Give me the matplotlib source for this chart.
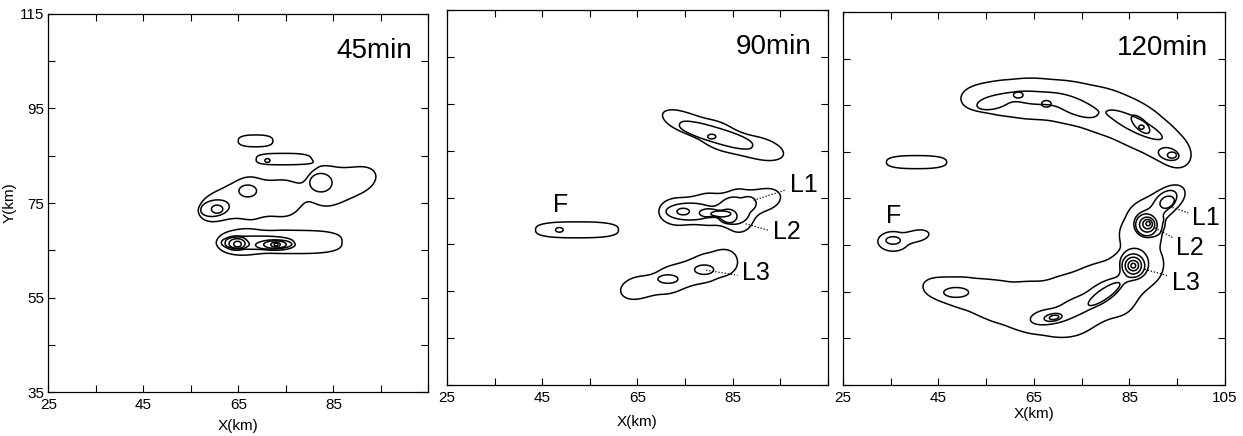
import numpy as np
import matplotlib.pyplot as plt

plt.rcParams['font.family'] = ['Liberation Sans', 'DejaVu Sans']

# echo cells:
# (x km, y km, half-length, half-width, tilt deg, contour level, squareness)
cells_45 = [
    (68.6, 88.15, 3.65, 1.25, 0, 1, 2.6),
    (74.4, 84.3, 5.6, 1.2, 0, 1, 3.0),
    (71.1, 84.0, 0.55, 0.4, 0, 2, 2),
    (61.0, 74.4, 4.6, 3.0, 25, 1, 2),
    (67.5, 76.0, 4.4, 4.5, 0, 1, 2),
    (74.5, 76.0, 3.8, 3.8, 0, 1, 2),
    (83.5, 78.6, 4.4, 4.2, 15, 1, 2),
    (89.5, 79.6, 4.6, 2.8, 20, 1, 2),
    (60.0, 73.9, 3.1, 1.7, 10, 2, 2),
    (60.5, 73.7, 1.2, 0.85, 0, 3, 2),
    (66.95, 77.55, 1.85, 1.25, 0, 2, 2),
    (82.35, 79.3, 2.35, 1.95, 0, 2, 2),
    (76.5, 66.75, 10.3, 2.45, 0, 1, 3),
    (65.0, 66.6, 4.3, 2.3, 0, 1, 2),
    (69.0, 66.6, 7.6, 1.4, 0, 2, 2.5),
    (64.5, 66.5, 2.4, 1.5, 0, 3, 2),
    (64.7, 66.4, 1.7, 1.05, 0, 4, 2),
    (64.8, 66.3, 0.8, 0.6, 0, 5, 2),
    (72.7, 66.1, 4.0, 1.1, 0, 3, 2),
    (72.7, 66.2, 2.4, 0.8, 0, 4, 2),
    (72.8, 66.2, 1.0, 0.5, 0, 5, 2),
    (72.9, 66.2, 0.4, 0.3, 0, 6, 2),
]

cells_90 = [
    (74.5, 91.2, 4.5, 2.0, -22, 1, 2),
    (82.0, 88.2, 5.5, 2.8, -25, 1, 2),
    (90.5, 85.5, 5.3, 2.3, -15, 1, 2),
    (81.5, 88.3, 8.0, 1.6, -17, 2, 2.5),
    (80.6, 88.0, 0.85, 0.5, 0, 3, 2),
    (52.3, 68.1, 8.7, 1.7, 0, 1, 2.8),
    (48.6, 68.1, 0.8, 0.5, 0, 2, 2),
    (73.5, 72.0, 4.0, 2.9, 0, 1, 2),
    (80.0, 72.5, 4.0, 3.4, 0, 1, 2),
    (86.3, 72.2, 3.5, 4.6, 0, 1, 2),
    (91.5, 74.5, 3.6, 2.3, 15, 1, 2),
    (76.0, 72.0, 5.0, 1.8, 0, 2, 2),
    (85.3, 72.2, 3.3, 2.9, 0, 2, 2),
    (88.5, 73.8, 1.3, 1.2, 0, 2, 2),
    (74.6, 72.0, 1.3, 0.7, 0, 3, 2),
    (80.0, 71.7, 2.0, 0.9, 0, 3, 2),
    (84.0, 71.0, 1.9, 1.5, 0, 3, 2),
    (82.5, 71.5, 2.1, 0.65, 0, 4, 2),
    (65.0, 55.7, 3.6, 2.3, 15, 1, 2),
    (72.0, 57.5, 4.5, 2.8, 22, 1, 2),
    (79.5, 60.0, 4.8, 3.0, 20, 1, 2),
    (83.5, 61.2, 2.2, 2.2, 0, 1, 2),
    (71.4, 57.6, 2.1, 0.9, 0, 2, 2),
    (79.0, 59.6, 2.0, 1.0, 0, 2, 2),
]

cells_120 = [
    # northern arc
    (53.5, 96.6, 3.8, 2.6, 5, 1, 2),
    (57.2, 96.6, 3.6, 2.9, 2, 1, 2),
    (61.0, 96.5, 4.5, 3.7, 0, 1, 2),
    (64.8, 96.4, 4.0, 3.5, -3, 1, 2),
    (68.5, 96.2, 4.5, 3.8, -5, 1, 2),
    (72.3, 95.6, 4.1, 3.7, -8, 1, 2),
    (76.0, 94.8, 4.5, 4.0, -12, 1, 2),
    (79.5, 93.8, 4.1, 3.9, -18, 1, 2),
    (83.0, 92.5, 4.5, 4.2, -25, 1, 2),
    (86.3, 90.8, 4.1, 3.8, -32, 1, 2),
    (89.5, 88.8, 4.5, 3.8, -38, 1, 2),
    (92.3, 86.8, 3.6, 3.0, -45, 1, 2),
    (94.8, 84.8, 3.3, 2.8, -50, 1, 2),
    (56.5, 95.6, 3.5, 1.4, 12, 2, 2),
    (65.0, 96.6, 5.2, 1.35, -5, 2, 2),
    (73.5, 94.8, 5.0, 1.7, -22, 2, 2),
    (86.2, 90.8, 6.3, 1.5, -27, 2, 2),
    (93.2, 84.5, 2.2, 1.25, -15, 2, 2),
    (61.7, 97.2, 1.0, 0.65, 0, 3, 2),
    (67.6, 95.3, 1.0, 0.7, 0, 3, 2),
    (87.3, 90.9, 2.5, 1.1, -45, 3, 2),
    (93.9, 84.3, 0.95, 0.65, 0, 3, 2),
    (87.5, 90.3, 0.55, 0.45, 0, 4, 2),
    # isolated cells
    (40.4, 82.8, 6.3, 1.4, 0, 1, 2.6),
    (35.5, 65.8, 3.2, 2.1, 0, 1, 2),
    (40.5, 67.0, 2.5, 1.2, 10, 1, 2),
    (35.5, 66.0, 1.5, 0.8, 0, 2, 2),
    # southern crescent
    (45.5, 55.6, 3.8, 2.3, -12, 1, 2),
    (49.0, 55.0, 3.3, 2.6, -12, 1, 2),
    (52.5, 54.3, 4.0, 3.3, -15, 1, 2),
    (56.3, 53.3, 3.6, 3.5, -12, 1, 2),
    (60.0, 52.3, 4.5, 4.2, -10, 1, 2),
    (63.8, 51.7, 3.8, 4.4, -5, 1, 2),
    (67.5, 51.3, 4.5, 5.1, 0, 1, 2),
    (71.0, 51.8, 3.8, 5.2, 0, 1, 2),
    (74.5, 52.4, 4.5, 5.9, 0, 1, 2),
    (81.0, 55.5, 5.5, 6.1, 35, 1, 2),
    (87.5, 61.2, 4.6, 5.0, 20, 1, 2),
    (87.4, 67.3, 3.9, 2.6, 0, 1, 2),
    (88.6, 71.5, 4.6, 3.3, 30, 1, 2),
    (93.3, 75.0, 3.7, 2.4, 35, 1, 2),
    (48.7, 54.85, 2.6, 1.05, 0, 2, 2),
    (67.8, 49.6, 3.6, 1.6, 10, 2, 2),
    (72.8, 51.4, 3.5, 1.7, 28, 2, 2),
    (79.0, 54.6, 5.2, 2.0, 33, 2, 2),
    (86.0, 61.0, 3.0, 3.3, 0, 2, 2),
    (89.2, 69.6, 3.2, 2.9, 0, 2, 2),
    (92.5, 74.5, 2.8, 1.7, 40, 2, 2),
    (79.7, 54.5, 4.0, 1.1, 35, 3, 2),
    (69.0, 49.5, 1.9, 0.8, 10, 3, 2),
    (92.9, 74.2, 1.6, 1.2, 30, 3, 2),
    (88.5, 69.3, 2.3, 2.4, 0, 3, 2),
    (85.8, 60.6, 2.4, 2.5, 0, 3, 2),
    (69.2, 49.5, 1.0, 0.45, 10, 4, 2),
    (88.7, 69.4, 1.6, 1.6, 0, 4, 2),
    (88.8, 69.5, 1.0, 1.0, 0, 5, 2),
    (88.9, 69.6, 0.45, 0.45, 0, 6, 2),
    (85.8, 60.6, 1.7, 1.8, 0, 4, 2),
    (85.8, 60.6, 1.1, 1.1, 0, 5, 2),
    (85.8, 60.6, 0.5, 0.5, 0, 6, 2),
]

times = ['45min', '90min', '120min']

# cell labels: (text, x, y) and dotted leaders (x0, y0, x1, y1)
labels_90 = [('F', 48.8, 73.3), ('L1', 99.9, 77.6), ('L2', 96.3, 67.6), ('L3', 89.8, 58.8)]
leaders_90 = [(89.4, 74.4, 96.1, 76.6), (87.7, 69.4, 92.5, 68.0), (79.4, 59.5, 86.0, 58.4)]
labels_120 = [('F', 35.5, 71.2), ('L1', 101.1, 70.8), ('L2', 97.7, 64.3), ('L3', 96.9, 56.8)]
leaders_120 = [(93.4, 73.3, 97.3, 71.9), (90.3, 68.7, 94.1, 66.6), (88.2, 59.8, 93.1, 58.4)]

xg = np.linspace(25, 105, 801)
yg = np.linspace(35, 115, 801)
X, Y = np.meshgrid(xg, yg)


def echo_field(cells, w=0.06):
    # each contour level is a smooth union of the cells drawn at that level
    tiers = {}
    for x0, y0, a, b, rot, lev, k in cells:
        t = np.deg2rad(rot)
        u = (X - x0) * np.cos(t) + (Y - y0) * np.sin(t)
        v = -(X - x0) * np.sin(t) + (Y - y0) * np.cos(t)
        rho = (np.abs(u / a) ** k + np.abs(v / b) ** k) ** (1.0 / k)
        tiers[lev] = tiers.get(lev, 0) + 0.5 ** (rho ** 3)
    return sum(1 / (1 + np.exp(-(m - 0.5) / w)) for m in tiers.values())


fig = plt.figure(figsize=(12.43, 4.36), dpi=100)
boxes = [[0.0390, 0.1009, 0.3057, 0.867],
         [0.3596, 0.117, 0.3065, 0.860],
         [0.6782, 0.117, 0.3073, 0.8555]]
xlab_y = [-0.072, -0.08, -0.06]
all_cells = [cells_45, cells_90, cells_120]
all_labels = [[], labels_90, labels_120]
all_leaders = [[], leaders_90, leaders_120]

for i in range(3):
    ax = fig.add_axes(boxes[i])
    F = echo_field(all_cells[i])
    ax.contour(X, Y, F, levels=np.arange(0.5, 7, 1), colors='k', linewidths=1.1)
    for txt, x, y in all_labels[i]:
        ax.text(x, y, txt, fontsize=18, ha='center', va='center')
    for x0, y0, x1, y1 in all_leaders[i]:
        ax.plot([x0, x1], [y0, y1], color='k', lw=0.9, ls=(0, (1, 1.5)))
    ax.text(101.5, 107.2, times[i], fontsize=20, ha='right', va='center')

    ax.set_xlim(25, 105)
    ax.set_ylim(35, 115)
    ax.set_xticks(np.arange(25, 106, 10))
    xl = ['25', '', '45', '', '65', '', '85', '', '105' if i == 2 else '']
    ax.set_xticklabels(xl, fontsize=11)
    ax.set_yticks(np.arange(35, 116, 10))
    if i == 0:
        ax.set_yticklabels(['35', '', '55', '', '75', '', '95', '', '115'], fontsize=11)
        ax.set_ylabel('Y(km)', fontsize=11)
        ax.yaxis.set_label_coords(-0.085, 0.5)
    else:
        ax.set_yticklabels([])
    ax.set_xlabel('X(km)', fontsize=11)
    ax.xaxis.set_label_coords(0.5, xlab_y[i])
    ax.tick_params(direction='in', top=True, right=True, length=5, width=0.8)
    ax.tick_params(axis='x', pad=4)
    ax.tick_params(axis='y', pad=3)
    for s in ax.spines.values():
        s.set_linewidth(0.9)

fig.savefig('out.png', dpi=100)
